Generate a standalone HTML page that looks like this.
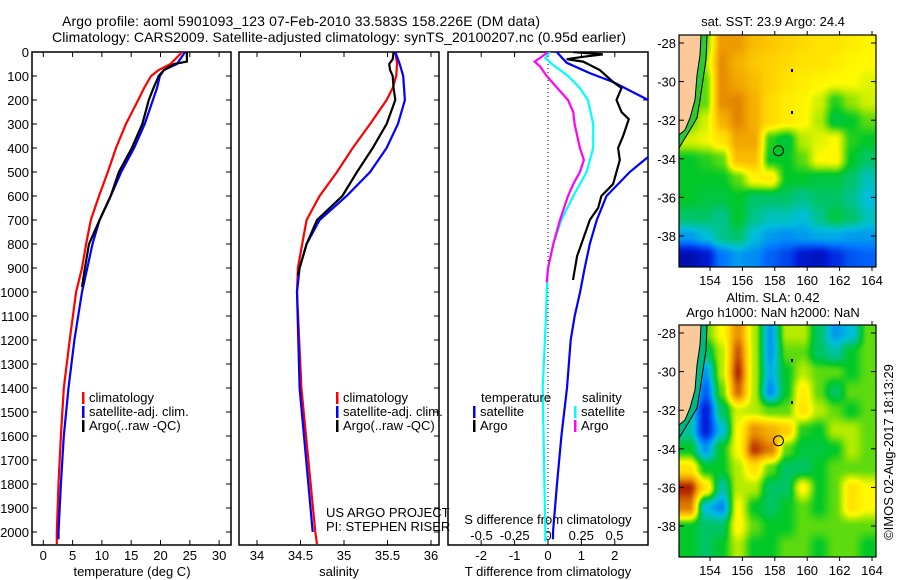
<!DOCTYPE html>
<html><head><meta charset="utf-8">
<style>
html,body{margin:0;padding:0;background:#fff;}
#wrap{position:relative;width:900px;height:580px;overflow:hidden;font-family:"Liberation Sans",sans-serif;}
svg text{font-family:"Liberation Sans",sans-serif;fill:#000;}
canvas{position:absolute;}
</style></head>
<body>
<div id="wrap">
<canvas id="sst" width="197" height="232" style="left:679px;top:35px"></canvas>
<canvas id="sla" width="197" height="232" style="left:679px;top:325px"></canvas>
<svg id="svg" width="900" height="580" style="position:absolute;left:0;top:0"></svg>
</div>
<script>
// ---- Profile data ----
const tDepthClim=[0,50,75,100,150,200,300,400,500,600,700,800,900,1000,1200,1400,1600,1800,2000,2050];
const tClim=[23.7,21.7,19.7,18.4,17.2,16.2,14.1,12.4,11.0,9.5,8.1,7.3,6.6,5.6,4.5,3.5,3.0,2.6,2.3,2.3];
const tDepthSat=[0,50,75,100,150,200,300,400,500,600,700,800,900,1000,1200,1400,1600,1800,2000,2030];
const tSat=[24.2,22.8,20.6,19.9,19.4,18.7,17.3,15.5,13.3,11.5,9.6,8.4,7.5,6.6,5.3,4.3,3.5,3.0,2.6,2.6];
const tDepthArgo=[0,25,40,50,75,100,150,200,300,400,500,600,700,800,900,980];
const tArgo=[24.5,24.5,24.5,22.3,20.6,19.7,18.8,18.0,16.9,15.1,12.9,11.5,9.6,7.8,7.1,6.6];

const sDepthClim=[0,50,100,150,200,300,400,500,600,700,800,900,1000,1400,2000,2050];
const sClim=[35.59,35.61,35.60,35.56,35.49,35.30,35.10,34.92,34.72,34.57,34.52,34.47,34.46,34.51,34.67,34.69];
const sDepthSat=[0,50,100,200,300,400,500,600,700,800,900,1000,1400,1600,2000];
const sSat=[35.59,35.64,35.68,35.70,35.62,35.49,35.30,35.03,34.72,34.57,34.49,34.46,34.49,34.54,34.64];
const sDepthArgo=[0,30,50,75,100,150,200,300,400,500,600,700,800,900,930];
const sArgo=[35.57,35.56,35.52,35.53,35.56,35.57,35.59,35.49,35.33,35.15,34.98,34.69,34.57,34.49,34.47];

const dtDepthSat=[0,45,88,125,200,300,400,437,500,600,700,800,900,1000,1100,1200,1400,1600,1800,2000,2030];
const dtSat=[0.26,0.56,1.25,1.95,3.0,3.6,3.2,3.0,2.45,1.75,1.46,1.25,1.1,0.96,0.8,0.68,0.57,0.4,0.27,0.15,0.15];
const dtDepthArgo=[0,10,20,30,40,75,125,150,200,250,280,350,400,450,550,600,650,700,800,850,950];
const dtArgo=[0.75,1.64,1.05,0.56,1.05,1.55,1.95,2.2,2.05,2.2,2.42,2.25,2.1,2.15,1.95,1.6,1.5,1.25,1.0,0.87,0.75];
const dsDepthSat=[0,25,50,75,100,150,200,300,400,500,600,700,800,900,1000,1100,1400,2000,2040];
const dsSat=[0.015,-0.02,0.03,0.09,0.15,0.24,0.30,0.34,0.34,0.29,0.19,0.10,0.04,0.0,-0.01,-0.015,-0.04,-0.02,-0.02];
const dsDepthArgo=[0,25,40,60,100,150,200,250,300,400,450,500,550,600,700,800,900,960];
const dsArgo=[0,-0.06,-0.1,-0.06,-0.01,0.07,0.15,0.19,0.2,0.24,0.27,0.24,0.19,0.15,0.09,0.04,0,-0.01];

const depthTicks=[0,100,200,300,400,500,600,700,800,900,1000,1100,1200,1300,1400,1500,1600,1700,1800,1900,2000];
const tempTicks=[0,5,10,15,20,25,30];
const salTicks=[34,34.5,35,35.5,36];
const dtTicks=[-2,-1,0,1,2];
const dsTicks=[-0.5,-0.25,0,0.25,0.5];
const latTicks=[-28,-30,-32,-34,-36,-38];
const lonTicks=[154,156,158,160,162,164];

// ---- Map data (colour index 0..1, null = land) ----
const sstGrid=[
[null,null,.84,.84,.78,.76,.74,.72,.7,.7,.68,.66],
[null,.6,.86,.8,.76,.74,.72,.7,.7,.68,.66,.65],
[null,.55,.86,.82,.78,.74,.7,.68,.66,.65,.65,.63],
[null,.55,.86,.87,.8,.72,.68,.66,.62,.52,.58,.62],
[.55,.62,.8,.87,.8,.72,.68,.66,.6,.48,.5,.55],
[.62,.64,.7,.82,.82,.52,.48,.6,.63,.65,.52,.5],
[.5,.52,.55,.78,.78,.5,.5,.55,.65,.66,.5,.45],
[.5,.5,.5,.55,.66,.68,.5,.5,.48,.48,.45,.38],
[.5,.48,.48,.5,.45,.45,.45,.42,.45,.45,.42,.35],
[.45,.45,.42,.5,.42,.38,.38,.35,.42,.48,.45,.38],
[.3,.35,.42,.45,.35,.3,.28,.3,.32,.32,.3,.3],
[.06,.1,.25,.3,.28,.22,.18,.1,.08,.14,.2,.22]];
const slaGrid=[
[null,null,.65,.85,.6,.3,.6,.6,.45,.3,.35,.55],
[null,.45,.6,.92,.6,.3,.55,.55,.45,.4,.5,.55],
[null,.3,.6,.96,.6,.33,.5,.6,.55,.55,.5,.55],
[null,.22,.55,.9,.6,.28,.5,.68,.55,.45,.55,.55],
[.4,.12,.45,.62,.6,.55,.55,.7,.6,.55,.5,.55],
[.4,.12,.35,.65,.85,.8,.75,.52,.5,.6,.6,.55],
[.5,.3,.5,.65,.95,.88,.55,.48,.48,.5,.6,.55],
[.7,.5,.5,.6,.7,.55,.45,.45,.5,.55,.55,.55],
[.97,.7,.4,.6,.6,.45,.45,.66,.5,.55,.7,.65],
[.88,.35,.28,.65,.5,.45,.5,.55,.5,.55,.7,.65],
[.5,.45,.45,.66,.55,.5,.5,.55,.55,.55,.55,.55],
[.5,.45,.5,.6,.5,.5,.55,.55,.5,.55,.55,.5]];

// ---- scales ----
const yD=d=>52+d*0.24;
const xT=t=>43.3+t*5.86;
const xS=s=>257+(s-34)*87;
const xDT=v=>548+v*33.4;
const xDS=v=>548+v*133;
const xLon=l=>710+(l-154)*16.2;
const yLat=l=>43+(-28-l)*19.3;

const NS='http://www.w3.org/2000/svg';
const svg=document.getElementById('svg');
function el(tag,attrs,parent){const e=document.createElementNS(NS,tag);for(const k in attrs)e.setAttribute(k,attrs[k]);(parent||svg).appendChild(e);return e;}
function txt(x,y,s,anchor,size,parent){const e=el('text',{x:x,y:y,'text-anchor':anchor||'start','font-size':size||12},parent);e.textContent=s;return e;}

const defs=el('defs',{});
[['c1',32,231],['c2',239,439],['c3',448,648]].forEach(c=>{const cp=el('clipPath',{id:c[0]},defs);el('rect',{x:c[1],y:52,width:c[2]-c[1],height:493},cp);});

let t1=txt(62,26,'Argo profile: aoml 5901093_123 07-Feb-2010 33.583S 158.226E (DM data)','start',14);
t1.setAttribute('textLength','478');

let t2=txt(52,42,'Climatology: CARS2009. Satellite-adjusted climatology: synTS_20100207.nc (0.95d earlier)','start',14);
t2.setAttribute('textLength','574');


const panels=[[32,231,'temperature-panel'],[239,439,'salinity-panel'],[448,648,'difference-panel']];
panels.forEach(p=>{const r=el('rect',{x:p[0],y:52,width:p[1]-p[0],height:493,fill:'none',stroke:'#000','stroke-width':1.5});
});

depthTicks.forEach(d=>{const y=yD(d);
 const lb=txt(29,y+5,String(d),'end',13);
 el('line',{x1:32,x2:37,y1:y,y2:y,stroke:'#000'});
 el('line',{x1:226,x2:231,y1:y,y2:y,stroke:'#000'});
 el('line',{x1:434,x2:439,y1:y,y2:y,stroke:'#000'});
 el('line',{x1:643,x2:648,y1:y,y2:y,stroke:'#000'});
});
function xticks(vals,f,labels,ly){vals.forEach((v,i)=>{const x=f(v);
 el('line',{x1:x,x2:x,y1:52,y2:57,stroke:'#000'});el('line',{x1:x,x2:x,y1:540,y2:545,stroke:'#000'});
 if(labels){const l=txt(x,ly,labels[i],'middle',13);}});}
xticks(tempTicks,xT,tempTicks.map(String),560);
xticks(salTicks,xS,salTicks.map(String),560);
xticks(dtTicks,xDT,dtTicks.map(String),560);
dsTicks.forEach(v=>{const l=txt(xDS(v),540,String(v),'middle',13);});
[['temperature (deg C)',132,'x-axis-title-temperature'],['salinity',339,'x-axis-title-salinity'],['T difference from climatology',548,'x-axis-title-t-diff']].forEach(a=>{const l=txt(a[1],576,a[0],'middle',13);});
let sd=txt(548,524,'S difference from climatology','middle',13);

el('line',{x1:548,x2:548,y1:52,y2:545,stroke:'#000','stroke-dasharray':'1,3'});

function series(depths,vals,xf,color,clip,name){
 const pts=depths.map((d,i)=>xf(vals[i]).toFixed(1)+','+yD(d).toFixed(1)).join(' ');
 const p=el('polyline',{points:pts,fill:'none',stroke:color,'stroke-width':2.2,'clip-path':'url(#'+clip+')'});
 }
series(tDepthClim,tClim,xT,'#ff0000','c1','temp-climatology-line');
series(tDepthSat,tSat,xT,'#0000ff','c1','temp-satellite-line');
series(tDepthArgo,tArgo,xT,'#000000','c1','temp-argo-line');
series(sDepthClim,sClim,xS,'#ff0000','c2','sal-climatology-line');
series(sDepthSat,sSat,xS,'#0000ff','c2','sal-satellite-line');
series(sDepthArgo,sArgo,xS,'#000000','c2','sal-argo-line');
series(dtDepthSat,dtSat,xDT,'#0000ff','c3','t-diff-satellite-line');
series(dtDepthArgo,dtArgo,xDT,'#000000','c3','t-diff-argo-line');
series(dsDepthSat,dsSat,xDS,'#00ffff','c3','s-diff-satellite-line');
series(dsDepthArgo,dsArgo,xDS,'#ff00ff','c3','s-diff-argo-line');

function legend(x,y,color,label){const g=el('g',{});
 el('rect',{x:x,y:y-10,width:2.5,height:12,fill:color},g);txt(x+7,y,label,'start',13,g);}
[[82,'climatology','#ff0000',402],[82,'satellite-adj. clim.','#0000ff',416],[82,'Argo(..raw -QC)','#000000',430]].forEach(l=>legend(l[0],l[3],l[2],l[1]));
[[336,'climatology','#ff0000',402],[336,'satellite-adj. clim.','#0000ff',416],[336,'Argo(..raw -QC)','#000000',430]].forEach(l=>legend(l[0],l[3],l[2],l[1]));
let lt=txt(481,402,'temperature','start',13);
let ls=txt(582,402,'salinity','start',13);
legend(473,416,'#0000ff','satellite');legend(473,430,'#000000','Argo');
legend(574,416,'#00ffff','satellite');legend(574,430,'#ff00ff','Argo');
let us=txt(326,517,'US ARGO PROJECT','start',13);
let pi=txt(326,531,'PI: STEPHEN RISER','start',13);

// ---- maps ----
const stops=[[0,[0,0,128]],[.12,[0,30,220]],[.25,[0,120,255]],[.35,[0,190,220]],[.42,[0,195,140]],[.5,[0,200,40]],[.58,[150,230,0]],[.65,[255,250,0]],[.75,[255,205,0]],[.85,[235,150,0]],[.92,[205,90,0]],[1,[160,0,0]]];
function cmap(v){v=Math.max(0,Math.min(1,v));for(let i=1;i<stops.length;i++){if(v<=stops[i][0]){const a=stops[i-1],b=stops[i],f=(v-a[0])/(b[0]-a[0]);return a[1].map((c,k)=>c+(b[1][k]-c)*f);}}return stops[stops.length-1][1];}
function drawMap(id,grid){const c=document.getElementById(id),ctx=c.getContext('2d'),img=ctx.createImageData(197,232);
 for(let py=0;py<232;py++){for(let px=0;px<197;px++){
  const lon=154+(px+679-710)/16.2, g=Math.max(0,Math.min(11,(py+35-43)/19.3)), f=Math.max(0,Math.min(11,lon-152.7));
  const i0=Math.floor(f),j0=Math.floor(g),i1=Math.min(11,i0+1),j1=Math.min(11,j0+1);
  let fx=f-i0,fy=g-j0;fx=fx*fx*(3-2*fx);fy=fy*fy*(3-2*fy);
  const gv=(j,i)=>{const v=grid[j][i];return v===null?0.55:v;};
  const v=(gv(j0,i0)*(1-fx)+gv(j0,i1)*fx)*(1-fy)+(gv(j1,i0)*(1-fx)+gv(j1,i1)*fx)*fy;
  const col=cmap(v),k=(py*197+px)*4;img.data[k]=col[0];img.data[k+1]=col[1];img.data[k+2]=col[2];img.data[k+3]=255;}}
 ctx.putImageData(img,0,0);}
drawMap('sst',sstGrid);drawMap('sla',slaGrid);

function mapDecor(top,name,stripColor){
 const off=top-35;
 const strip=el('polygon',{points:`679,${35+off} 707,${35+off} 706,${60+off} 703,${80+off} 700,${100+off} 697,${118+off} 690,${130+off} 679,${148+off}`,fill:stripColor});
 
 const land=el('polygon',{points:`679,${35+off} 701,${35+off} 700,${55+off} 697,${75+off} 695,${100+off} 690,${118+off} 685,${130+off} 679,${135+off}`,fill:'#fcc99b'});
 
 el('polyline',{points:`707,${35+off} 706,${60+off} 703,${80+off} 700,${100+off} 697,${118+off} 690,${130+off} 679,${148+off}`,fill:'none',stroke:'#000','stroke-width':1});
 el('polyline',{points:`701,${35+off} 700,${55+off} 697,${75+off} 695,${100+off} 690,${118+off} 685,${130+off} 679,${135+off}`,fill:'none',stroke:'#000','stroke-width':1});
 const fr=el('rect',{x:679,y:top,width:197,height:232,fill:'none',stroke:'#000','stroke-width':1.2});
 
 latTicks.forEach(l=>{const y=yLat(l)+off;el('line',{x1:679,x2:684,y1:y,y2:y,stroke:'#000'});el('line',{x1:871,x2:876,y1:y,y2:y,stroke:'#000'});
  const t=txt(676,y+5,String(l),'end',13);});
 lonTicks.forEach(l=>{const x=xLon(l);el('line',{x1:x,x2:x,y1:top-4,y2:top,stroke:'#000'});el('line',{x1:x,x2:x,y1:top+232,y2:top+236,stroke:'#000'});
  const t=txt(x,top+250,String(l),'middle',13);});
 const m=el('circle',{cx:xLon(158.226),cy:yLat(-33.583)+off,r:5,fill:'none',stroke:'#000','stroke-width':1});
 
 el('rect',{x:791,y:69+off,width:2,height:3,fill:'#000'});el('rect',{x:791,y:111+off,width:2,height:3,fill:'#000'});
}
mapDecor(35,'sst-map-frame','#30c830');
mapDecor(325,'sla-map-frame','#00b880');
let m1=txt(773,26,'sat. SST: 23.9 Argo: 24.4','middle',13);
let m2=txt(773,302,'Altim. SLA: 0.42','middle',13);
let m3=txt(773,317,'Argo h1000: NaN h2000: NaN','middle',13);
let cr=txt(0,0,'©IMOS 02-Aug-2017 18:13:29','middle',13);cr.setAttribute('transform','translate(893,452) rotate(-90)');

</script>
</body></html>
